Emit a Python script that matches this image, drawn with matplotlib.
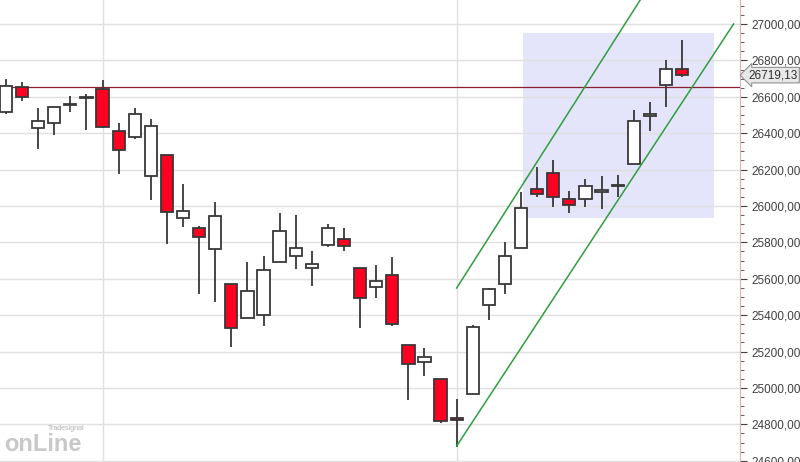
import matplotlib.pyplot as plt
from matplotlib.patches import Rectangle
from matplotlib.ticker import MultipleLocator, FuncFormatter

# OHLC values
opens = [26515, 26652, 26427, 26454, 26555, 26591, 26641, 26410, 26377, 26163,
         26279, 25932, 25877, 25762, 25570, 25383, 25399, 25691, 25724, 25658,
         25784, 25817, 25658, 25553, 25619, 25235, 25141, 25048, 24833, 24965,
         25454, 25570, 25768, 26092, 26180, 26040, 26037, 26075, 26110, 26229,
         26493, 26663, 26751]
highs = [26698, 26681, 26537, 26544, 26604, 26615, 26692, 26458, 26538, 26478,
         26280, 26121, 25890, 26022, 25570, 25694, 25725, 25960, 25951, 25753,
         25901, 25879, 25659, 25676, 25720, 25235, 25220, 25048, 24940, 25345,
         25549, 25802, 26075, 26216, 26253, 26082, 26147, 26165, 26172, 26527,
         26571, 26802, 26912]
lows = [26506, 26579, 26312, 26392, 26518, 26419, 26427, 26177, 26370, 26035,
        25790, 25886, 25518, 25471, 25224, 25383, 25342, 25691, 25656, 25562,
        25776, 25754, 25328, 25496, 25342, 24936, 25068, 24810, 24677, 24965,
        25375, 25518, 25768, 26051, 25996, 25960, 25996, 25985, 26051, 26229,
        26414, 26542, 26707]
closes = [26659, 26597, 26465, 26542, 26559, 26596, 26432, 26308, 26504, 26438,
          25965, 25971, 25828, 25945, 25330, 25533, 25647, 25861, 25768, 25680,
          25877, 25779, 25493, 25586, 25350, 25130, 25169, 24817, 24822, 25334,
          25542, 25724, 25987, 26066, 26048, 26004, 26108, 26090, 26113, 26465,
          26504, 26751, 26718]

last_price = 26719.13
resistance = 26652
upper_channel = [(28.0, 25549), (39.4, 27132)]
lower_channel = [(28.0, 24681), (45.2, 27000)]
box = (32.1, 25934, 44.0, 26951)  # x0, y0, x1, y1
vlines = [6, 28]


def main():
    plt.rcParams['font.family'] = ['Liberation Sans', 'DejaVu Sans']
    fig = plt.figure(figsize=(8, 4.62), dpi=100)
    ax = fig.add_axes([0, 0, 740 / 800, 1])
    ax.set_xlim(-0.37, 45.6)
    ax.set_ylim(24593, 27132)

    ax.yaxis.set_major_locator(MultipleLocator(200))
    ax.yaxis.set_minor_locator(MultipleLocator(50))
    ax.grid(axis='y', color='#e0e0e0', lw=1, zorder=0)
    for v in vlines:
        ax.axvline(v, color='#e0e0e0', lw=1, zorder=0)

    x0, y0, x1, y1 = box
    ax.add_patch(Rectangle((x0, y0), x1 - x0, y1 - y0, facecolor='#e4e4fb',
                           edgecolor='none', zorder=1))

    ax.axhline(resistance, color='#8a2030', lw=0.9, zorder=2)

    w = 0.38
    for i, (o, h, l, c) in enumerate(zip(opens, highs, lows, closes)):
        ax.vlines(i, l, h, color='#383838', lw=1.3, zorder=3)
        bottom, top = min(o, c), max(o, c)
        fc = '#ff0022' if c < o else 'white'
        ax.add_patch(Rectangle((i - w, bottom), 2 * w, max(top - bottom, 6),
                               facecolor=fc, edgecolor='#383838', lw=1.3, zorder=4))

    for line in (upper_channel, lower_channel):
        ax.plot([p[0] for p in line], [p[1] for p in line], color='#2e9e3e',
                lw=1.1, zorder=5)

    ax.xaxis.set_visible(False)
    ax.yaxis.tick_right()
    ax.yaxis.set_major_formatter(FuncFormatter(lambda v, _: f"{v:.2f}".replace('.', ',')))
    ax.tick_params(axis='y', which='major', length=5, color='#404040',
                   labelsize=8.5, labelcolor='#404040', pad=3)
    ax.tick_params(axis='y', which='minor', length=3, color='#404040')
    for s in ('top', 'left', 'bottom'):
        ax.spines[s].set_visible(False)
    ax.spines['right'].set_color('#e0b0b0')

    ax.annotate(f"{last_price:.2f}".replace('.', ','), xy=(1.0, last_price),
                xycoords=('axes fraction', 'data'), xytext=(6, 0),
                textcoords='offset points', va='center', ha='left',
                fontsize=8.5, color='#303030', annotation_clip=False,
                bbox=dict(boxstyle='larrow,pad=0.15', fc='#e8e8e8', ec='#909090', lw=0.8))

    fig.text(0.005, 0.012, "onLine", fontsize=17, fontweight='bold',
             color='#c8c8c8', ha='left', va='bottom')
    fig.text(0.06, 0.065, "Tradesignal", fontsize=5, color='#b0b0b0',
             ha='left', va='bottom')

    fig.savefig('out.png', dpi=100)


if __name__ == '__main__':
    main()
